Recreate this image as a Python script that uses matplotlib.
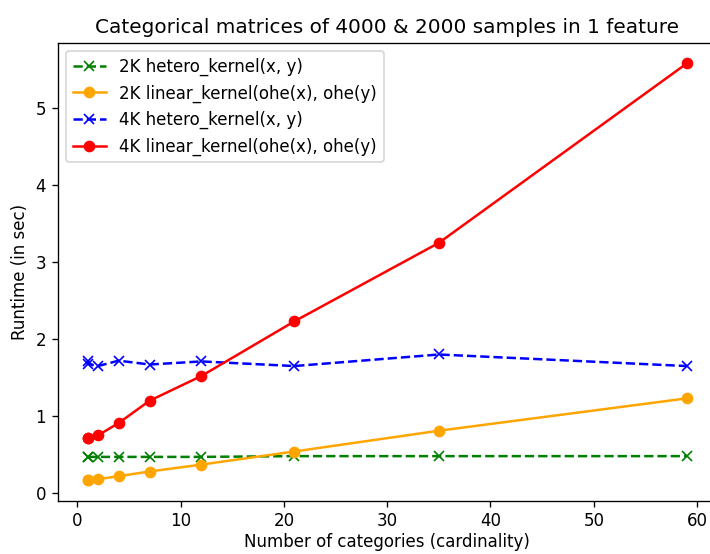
import matplotlib
matplotlib.use("Agg")
import matplotlib.pyplot as plt

# cardinality values (x=1 measured twice)
n_categories = [1, 1, 2, 4, 7, 12, 21, 35, 59]

hetero_2k = [0.47, 0.47, 0.47, 0.47, 0.47, 0.47, 0.48, 0.48, 0.48]
linear_2k = [0.17, 0.17, 0.18, 0.22, 0.28, 0.37, 0.54, 0.81, 1.23]
hetero_4k = [1.72, 1.68, 1.65, 1.72, 1.67, 1.71, 1.65, 1.80, 1.65]
linear_4k = [0.71, 0.71, 0.75, 0.91, 1.20, 1.52, 2.23, 3.25, 5.58]

DPI = 120
fig, ax = plt.subplots(figsize=(710 / DPI, 554 / DPI), dpi=DPI)
ax.plot(n_categories, hetero_2k, "x--", color="green", label="2K hetero_kernel(x, y)")
ax.plot(n_categories, linear_2k, "o-", color="orange", label="2K linear_kernel(ohe(x), ohe(y)")
ax.plot(n_categories, hetero_4k, "x--", color="blue", label="4K hetero_kernel(x, y)")
ax.plot(n_categories, linear_4k, "o-", color="red", label="4K linear_kernel(ohe(x), ohe(y)")

ax.set_title("Categorical matrices of 4000 & 2000 samples in 1 feature")
ax.set_xlabel("Number of categories (cardinality)", labelpad=1.5)
ax.set_ylabel("Runtime (in sec)")
ax.legend(loc="upper left")

# the reference is cropped on the right, so the axes runs past the edge
fig.subplots_adjust(left=0.0813, right=1.0094, top=0.923, bottom=0.096)
fig.savefig("out.png", dpi=DPI)
